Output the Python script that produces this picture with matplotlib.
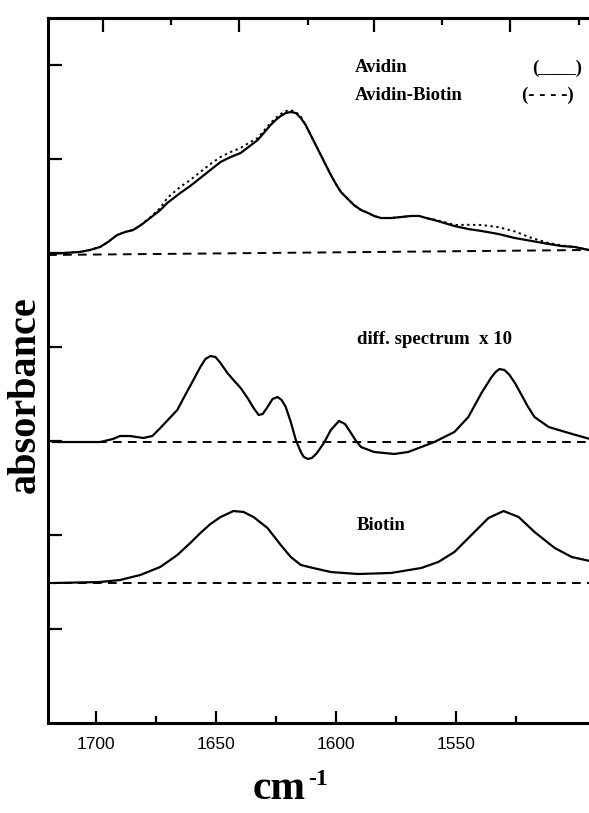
import numpy as np
import matplotlib as mpl
import matplotlib.pyplot as plt

mpl.rcParams.update({"font.family": "Liberation Sans", "savefig.dpi": 100})
SERIF = "Liberation Serif"

# wavenumber (cm-1) and absorbance (arb. units, spectra stacked with offsets)
avidin_wn = [1720.1, 1706.7, 1702.5, 1698.3, 1695.0, 1691.2, 1687.9, 1684.5, 1681.2, 1677.4,
             1673.2, 1670.3, 1664.9, 1660.7, 1656.5, 1652.3, 1648.1, 1643.9, 1639.7, 1636.4,
             1632.6, 1629.7, 1627.2, 1625.1, 1623.0, 1620.9, 1618.8, 1616.7, 1614.6, 1612.6,
             1610.5, 1608.4, 1606.3, 1604.2, 1602.1, 1600.0, 1597.9, 1595.0, 1592.5, 1589.5,
             1586.6, 1584.1, 1581.2, 1577.0, 1572.8, 1568.6, 1565.3, 1562.3, 1559.0, 1554.8,
             1550.6, 1544.8, 1539.3, 1532.2, 1525.5, 1518.4, 1511.3, 1505.9, 1500.4, 1494.6]
avidin_abs = [4.989, 5.011, 5.032, 5.064, 5.117, 5.191, 5.223, 5.245, 5.298, 5.372,
              5.457, 5.532, 5.638, 5.713, 5.798, 5.883, 5.968, 6.021, 6.064, 6.128,
              6.202, 6.287, 6.362, 6.415, 6.457, 6.489, 6.500, 6.489, 6.436, 6.362,
              6.255, 6.149, 6.043, 5.936, 5.830, 5.734, 5.649, 5.574, 5.511, 5.457,
              5.426, 5.394, 5.372, 5.372, 5.383, 5.394, 5.394, 5.372, 5.351, 5.319,
              5.287, 5.255, 5.234, 5.202, 5.160, 5.128, 5.096, 5.074, 5.064, 5.032]
complex_abs = [4.989, 5.011, 5.032, 5.064, 5.117, 5.191, 5.223, 5.245, 5.30, 5.38,
               5.48, 5.585, 5.702, 5.777, 5.862, 5.947, 6.021, 6.074, 6.117, 6.17,
               6.223, 6.31, 6.383, 6.436, 6.479, 6.51, 6.52, 6.50, 6.45, 6.362,
               6.255, 6.149, 6.043, 5.936, 5.830, 5.734, 5.649, 5.574, 5.511, 5.457,
               5.426, 5.394, 5.372, 5.372, 5.383, 5.394, 5.394, 5.372, 5.355, 5.33,
               5.298, 5.30, 5.298, 5.275, 5.23, 5.16, 5.106, 5.08, 5.064, 5.032]
avidin_base_wn = [1720, 1494]
avidin_base = [4.979, 5.032]

diff_wn = [1718.0, 1698.3, 1693.0, 1690.0, 1685.8, 1680.3, 1676.5, 1673.2, 1666.1, 1662.8,
           1659.4, 1656.5, 1654.4, 1652.3, 1650.2, 1648.1, 1645.2, 1642.7, 1639.7, 1636.8,
           1634.3, 1632.2, 1630.5, 1628.5, 1626.4, 1624.3, 1622.6, 1620.9, 1618.8, 1616.7,
           1614.6, 1613.4, 1611.7, 1610.0, 1607.9, 1605.0, 1602.1, 1598.7, 1596.2, 1593.7,
           1591.6, 1589.5, 1584.1, 1575.7, 1569.9, 1564.4, 1559.0, 1550.6, 1544.8, 1539.3,
           1537.2, 1535.1, 1533.4, 1531.8, 1529.7, 1527.6, 1525.1, 1522.6, 1520.1, 1517.2,
           1511.3, 1502.9, 1494.1]
diff_abs = [2.989, 2.989, 3.021, 3.053, 3.053, 3.032, 3.053, 3.138, 3.330, 3.489,
            3.649, 3.787, 3.872, 3.904, 3.894, 3.830, 3.723, 3.649, 3.564, 3.457,
            3.351, 3.277, 3.287, 3.362, 3.447, 3.468, 3.436, 3.362, 3.202, 3.011,
            2.883, 2.830, 2.809, 2.819, 2.872, 2.979, 3.117, 3.213, 3.181, 3.085,
            3.000, 2.936, 2.883, 2.862, 2.883, 2.936, 2.989, 3.096, 3.255, 3.511,
            3.596, 3.681, 3.734, 3.766, 3.755, 3.702, 3.606, 3.489, 3.372, 3.255,
            3.149, 3.085, 3.021]
diff_base_wn = [1718, 1494]
diff_base = [2.989, 2.989]

biotin_wn = [1718.0, 1698.3, 1690.0, 1681.6, 1673.2, 1666.1, 1660.7, 1656.5, 1652.3, 1648.1,
             1642.7, 1638.5, 1634.3, 1628.5, 1623.0, 1618.8, 1614.6, 1610.5, 1602.1, 1590.8,
             1577.0, 1564.4, 1557.3, 1550.6, 1543.5, 1536.4, 1530.1, 1523.8, 1517.2, 1508.8,
             1501.7, 1494.1]
biotin_abs = [1.489, 1.500, 1.521, 1.574, 1.660, 1.787, 1.915, 2.021, 2.117, 2.191,
              2.255, 2.245, 2.191, 2.074, 1.894, 1.766, 1.681, 1.655, 1.606, 1.585,
              1.596, 1.649, 1.713, 1.819, 2.000, 2.181, 2.255, 2.191, 2.032, 1.862,
              1.766, 1.723]
biotin_base_wn = [1720, 1494]
biotin_base = [1.489, 1.489]

bottom_ticks = [1700, 1650, 1600, 1550]
bottom_minor = [1675, 1625, 1575, 1525]
top_major = [1697.1, 1640.2, 1584.1, 1527.6]
top_minor = [1668.6, 1611.7, 1555.6, 1498.7]
left_ticks = [1, 2, 3, 4, 5, 6, 7]

fig = plt.figure(figsize=(5.89, 8.13), dpi=100)
ax = fig.add_axes([48 / 589, 1 - 723 / 813, 1 - 48 / 589 + 0.002, (723 - 18) / 813])

dash = (0, (4.5, 3.2))
ax.plot(avidin_base_wn, avidin_base, color="black", lw=1.4, ls=dash)
ax.plot(diff_base_wn, diff_base, color="black", lw=1.4, ls=dash)
ax.plot(biotin_base_wn, biotin_base, color="black", lw=1.4, ls=dash)
ax.plot(avidin_wn, complex_abs, color="black", lw=1.4, ls=(0, (1.2, 1.8)))
ax.plot(avidin_wn, avidin_abs, color="black", lw=1.6, solid_joinstyle="round")
ax.plot(diff_wn, diff_abs, color="black", lw=1.6, solid_joinstyle="round")
ax.plot(biotin_wn, biotin_abs, color="black", lw=1.6, solid_joinstyle="round")

ax.set_xlim(1720, 1494)
ax.set_ylim(0, 7.5)
for s in ("left", "bottom", "top"):
    ax.spines[s].set_linewidth(2.2)
ax.spines["right"].set_visible(False)

ax.set_xticks(bottom_ticks)
ax.set_xticks(bottom_minor, minor=True)
ax.tick_params(axis="x", which="major", direction="in", length=9, width=1.6,
               labelsize=12.5, pad=10)
ax.tick_params(axis="x", which="minor", direction="in", length=5, width=1.6)
ax.set_yticks(left_ticks)
ax.set_yticklabels([])
ax.tick_params(axis="y", direction="in", length=10, width=1.6)

top = ax.secondary_xaxis("top")
top.set_xticks(top_major)
top.set_xticks(top_minor, minor=True)
top.set_xticklabels([])
top.tick_params(which="major", direction="in", length=10, width=1.6)
top.tick_params(which="minor", direction="in", length=5, width=1.6)
top.spines["top"].set_linewidth(2.2)

tkw = dict(family=SERIF, weight="bold", fontsize=13.5, va="center", ha="left")
fig.text(355 / 589, 1 - 68 / 813, "Avidin", **tkw)
fig.text(355 / 589, 1 - 95 / 813, "Avidin-Biotin", **tkw)
fig.text(532 / 589, 1 - 68 / 813, "(____)", **tkw)
fig.text(522 / 589, 1 - 95 / 813, "(- - - -)", **tkw)
fig.text(357 / 589, 1 - 339 / 813, "diff. spectrum  x 10", **tkw)
fig.text(357 / 589, 1 - 525 / 813, "Biotin", **tkw)

fig.text(25 / 589, 1 - 395 / 813, "absorbance", family=SERIF, weight="bold",
         fontsize=29, rotation=90, ha="center", va="center")
fig.text(253 / 589, 0.017, "cm", family=SERIF, weight="bold", fontsize=30,
         ha="left", va="baseline")
fig.text(308 / 589, 1 - 785 / 813, "-1", family=SERIF, weight="bold", fontsize=17,
         ha="left", va="baseline")

fig.savefig("out.png", dpi=100)
